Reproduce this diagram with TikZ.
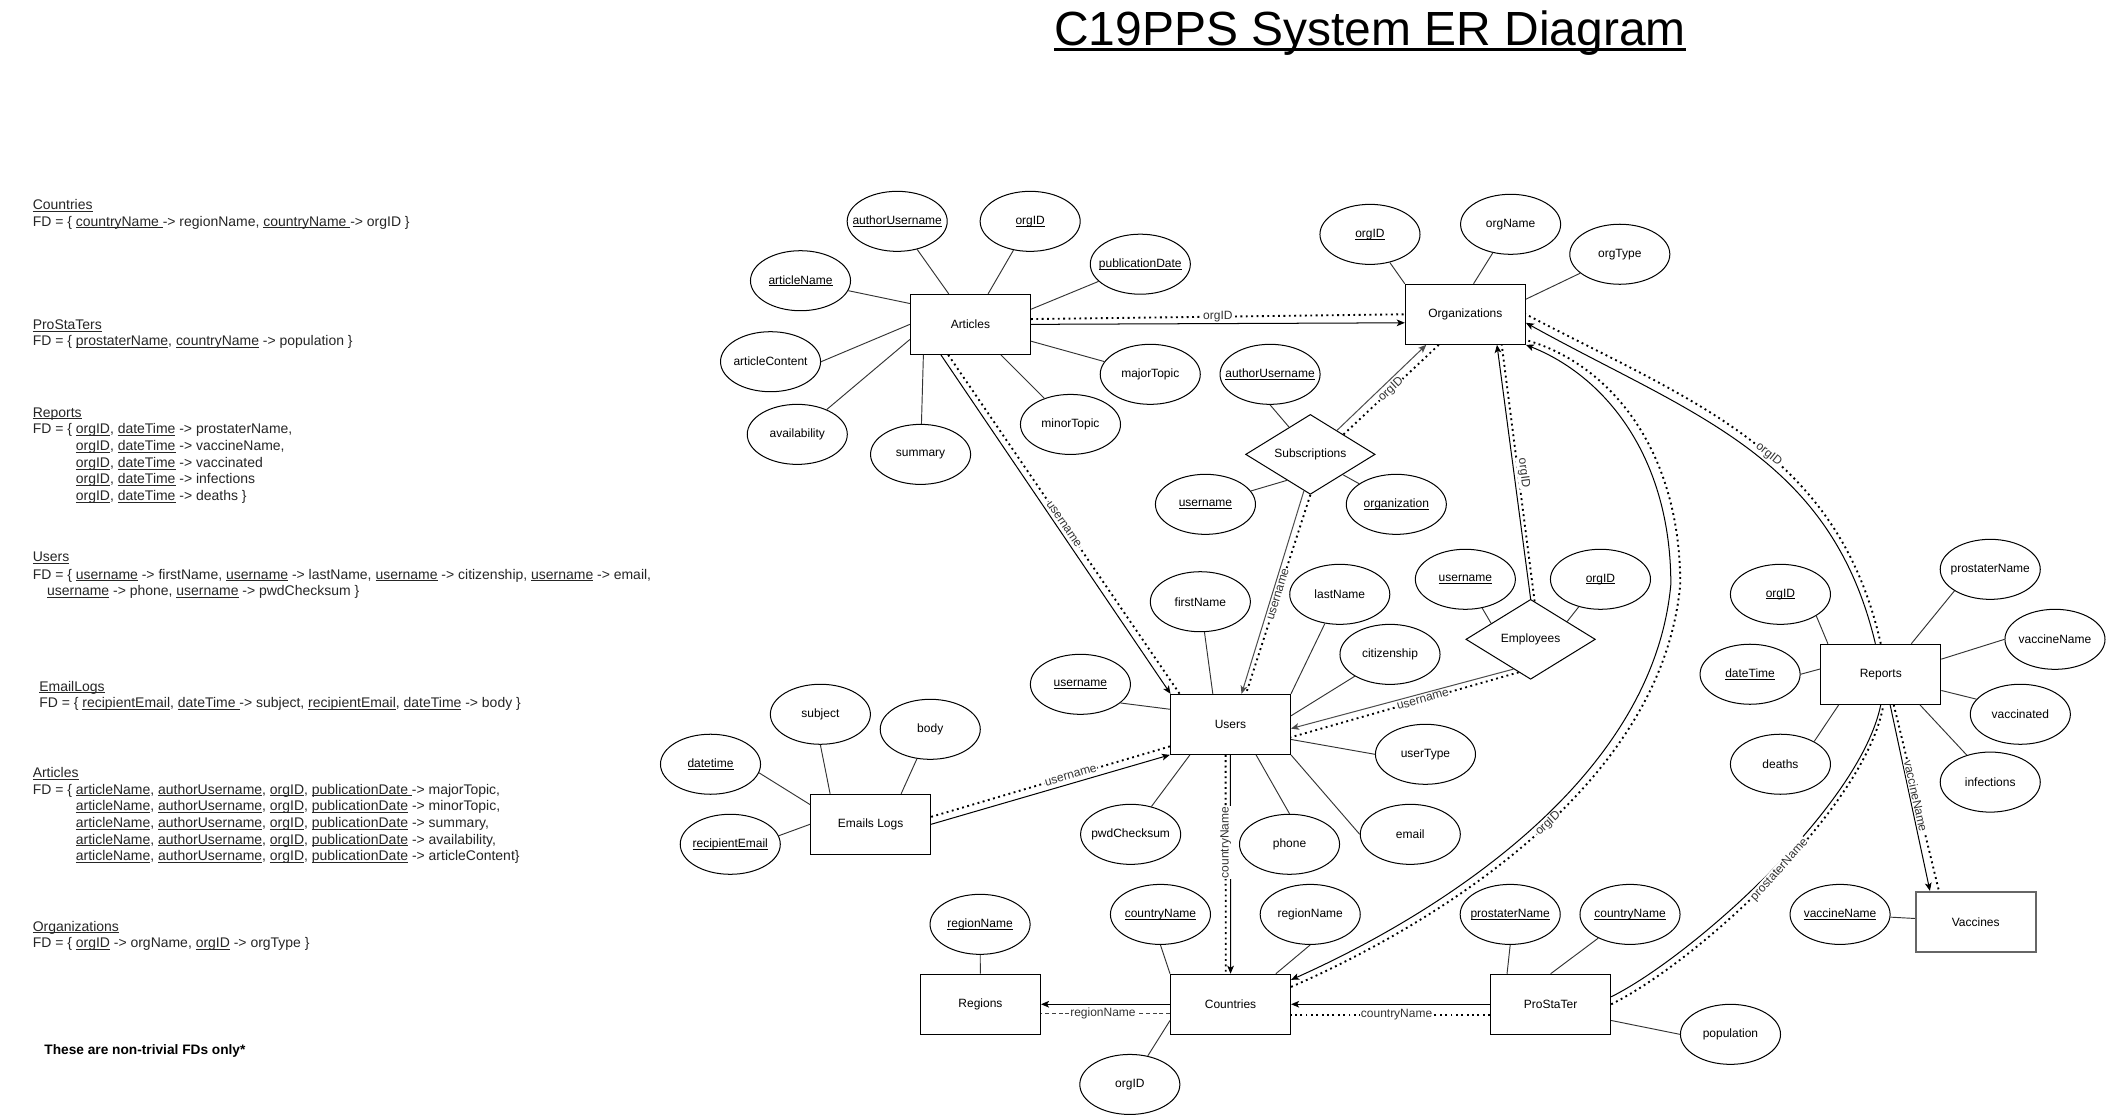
\documentclass[tikz,border=0pt]{standalone}
\usepackage{fontspec}
\setmainfont{Liberation Sans}
\usetikzlibrary{shapes.geometric,arrows.meta}
\newcommand{\uln}[1]{\setbox0\hbox{#1}\rlap{\rule[-1.5pt]{\wd0}{0.55pt}}\box0\relax}
\newcommand{\tul}[1]{\setbox0\hbox{#1}\rlap{\rule[-4.2pt]{\wd0}{1.8pt}}\box0\relax}
\newcommand{\zw}[1]{\makebox[0pt][c]{#1}}
\begin{document}
\begin{tikzpicture}[x=1pt,y=-1pt,
 dfont/.style={font=\fontsize{8.93}{10.7}\selectfont},
 ent/.style={draw, line width=0.75pt, minimum width=89.4pt, minimum height=44.7pt, inner sep=0pt, dfont},
 att/.style={ellipse, draw, line width=0.75pt, minimum width=74.5pt, minimum height=44.7pt, inner sep=0pt, dfont},
 relat/.style={diamond, draw, line width=0.75pt, minimum width=96.4pt, minimum height=59.5pt, inner sep=0pt, dfont},
 aline/.style={line width=0.7pt, draw=black!80},
 fk/.style={line width=0.75pt, -{Stealth[length=6pt,width=5pt,inset=1.5pt]}},
 fkboth/.style={line width=0.75pt, {Stealth[length=6pt,width=5pt,inset=1.5pt]}-{Stealth[length=6pt,width=5pt,inset=1.5pt]}},
 fkplain/.style={line width=0.75pt},
 fkdot/.style={line width=1.4pt, dash pattern=on 1.4pt off 2.6pt},
 fkdash/.style={line width=0.75pt, draw=black!75, dash pattern=on 3pt off 2pt},
 lab/.style={fill=white, inner sep=0.6pt, text=black!80, dfont},
 fd/.style={anchor=base west, inner sep=0pt, font=\fontsize{10.4}{12}\selectfont, text=black!85},
]
\fill[white] (0,0) rectangle (1568,830);
\useasboundingbox (0,0) rectangle (1568,830);

% ---------- title ----------
\node[anchor=base, inner sep=0pt, font=\fontsize{35.7}{40}\selectfont] (title) at (1020,33.6) {\tul{C19PPS System ER Diagram}};

% ---------- FD text ----------
\node[fd] (h1) at (24.2,155.8) {\uln{Countries}};
\node[fd] (f1) at (24.2,168.3) {FD = \{ \uln{countryName }-> regionName, \uln{countryName }-> orgID \}};
\node[fd] (h2) at (24.2,245.2) {\uln{ProStaTers}};
\node[fd] (f2) at (24.2,257.6) {FD = \{ \uln{prostaterName}, \uln{countryName} -> population \}};
\node[fd] (h3) at (24.2,310.5) {\uln{Reports}};
\node[fd] (f3a) at (24.2,323.1) {FD = \{ \uln{orgID}, \uln{dateTime} -> prostaterName,};
\node[fd] (f3b) at (56.3,335.6) {\uln{orgID}, \uln{dateTime} -> vaccineName,};
\node[fd] (f3c) at (56.3,347.9) {\uln{orgID}, \uln{dateTime} -> vaccinated};
\node[fd] (f3d) at (56.3,360.1) {\uln{orgID}, \uln{dateTime} -> infections};
\node[fd] (f3e) at (56.3,372.5) {\uln{orgID}, \uln{dateTime} -> deaths \}};
\node[fd] (h4) at (24.2,418.4) {\uln{Users}};
\node[fd] (f4a) at (24.2,431.1) {FD = \{ \uln{username} -> firstName, \uln{username} -> lastName, \uln{username} -> citizenship, \uln{username} -> email,};
\node[fd] (f4b) at (34.9,443.5) {\uln{username} -> phone, \uln{username} -> pwdChecksum \}};
\node[fd] (h5) at (29.1,514.5) {\uln{EmailLogs}};
\node[fd] (f5) at (29.1,526.9) {FD = \{ \uln{recipientEmail}, \uln{dateTime }-> subject, \uln{recipientEmail}, \uln{dateTime} -> body \}};
\node[fd] (h6) at (24.2,578.8) {\uln{Articles}};
\node[fd] (f6a) at (24.2,591.2) {FD = \{ \uln{articleName}, \uln{authorUsername}, \uln{orgID}, \uln{publicationDate }-> majorTopic,};
\node[fd] (f6b) at (56.3,603.6) {\uln{articleName}, \uln{authorUsername}, \uln{orgID}, \uln{publicationDate} -> minorTopic,};
\node[fd] (f6c) at (56.3,616.0) {\uln{articleName}, \uln{authorUsername}, \uln{orgID}, \uln{publicationDate} -> summary,};
\node[fd] (f6d) at (56.3,628.4) {\uln{articleName}, \uln{authorUsername}, \uln{orgID}, \uln{publicationDate} -> availability,};
\node[fd] (f6e) at (56.3,640.8) {\uln{articleName}, \uln{authorUsername}, \uln{orgID}, \uln{publicationDate} -> articleContent\}};
\node[fd] (h7) at (24.2,693.2) {\uln{Organizations}};
\node[fd] (f7) at (24.2,705.6) {FD = \{ \uln{orgID} -> orgName, \uln{orgID} -> orgType \}};
\node[fd, text=black, font=\fontsize{10.2}{12}\selectfont\bfseries] (note) at (32.9,784.8) {These are non-trivial FDs only*};

% ---------- entities ----------
\node[ent] (articles) at (722.5,241.5) {Articles};
\node[ent] (orgs) at (1091,234) {Organizations};
\node[ent] (users) at (916.1,539.3) {Users};
\node[ent] (emails) at (648.2,613.7) {Emails Logs};
\node[ent] (regions) at (730,747.7) {Regions};
\node[ent] (countries) at (916.2,747.7) {Countries};
\node[ent] (prost) at (1154.5,747.7) {ProStaTer};
\node[ent] (reports) at (1400.3,502) {Reports};
\node[ent, draw=black!60, line width=1.3pt] (vaccines) at (1471,686.3) {Vaccines};

% ---------- relationships ----------
\node[relat] (subs) at (975.6,338.3) {\zw{Subscriptions}};
\node[relat] (emp) at (1139.6,476) {\zw{Employees}};

% ---------- attributes ----------
\node[att] (a1) at (668,164.8) {\zw{\uln{authorUsername}}};
\node[att] (a2) at (767,164.8) {\zw{\uln{orgID}}};
\node[att] (a3) at (849,196.7) {\zw{\uln{publicationDate}}};
\node[att] (a4) at (596,209) {\zw{\uln{articleName}}};
\node[att] (a5) at (573.7,269.3) {\zw{articleContent}};
\node[att] (a6) at (593.6,323.4) {\zw{availability}};
\node[att] (a7) at (685.4,338.3) {\zw{summary}};
\node[att] (a8) at (797,316) {\zw{minorTopic}};
\node[att] (a9) at (856.4,278.7) {\zw{majorTopic}};

\node[att] (o1) at (1020,174.5) {\zw{\uln{orgID}}};
\node[att] (o2) at (1124.7,167) {\zw{orgName}};
\node[att] (o3) at (1206,189.3) {\zw{orgType}};

\node[att] (s1) at (945.6,278.7) {\zw{\uln{authorUsername}}};
\node[att] (s2) at (897.5,375.5) {\zw{\uln{username}}};
\node[att] (s3) at (1039.6,375.5) {\zw{\uln{organization}}};

\node[att] (e1) at (1091,431.3) {\zw{\uln{username}}};
\node[att] (e2) at (1191.6,431.3) {\zw{\uln{orgID}}};

\node[att] (u1) at (893.7,448) {\zw{firstName}};
\node[att] (u2) at (997.5,442.5) {\zw{lastName}};
\node[att] (u3) at (1034.9,487.2) {\zw{citizenship}};
\node[att] (u4) at (1061.3,561.6) {\zw{userType}};
\node[att] (u5) at (1050,621.2) {\zw{email}};
\node[att] (u6) at (960.1,628.6) {\zw{phone}};
\node[att] (u7) at (841.8,621.2) {\zw{pwdChecksum}};
\node[att] (u8) at (804.4,509.5) {\zw{\uln{username}}};

\node[att] (m1) at (610.8,531.8) {\zw{subject}};
\node[att] (m2) at (692.6,543) {\zw{body}};
\node[att] (m3) at (529,569) {\zw{\uln{datetime}}};
\node[att] (m4) at (543.7,628.6) {\zw{\uln{recipientEmail}}};

\node[att] (r1) at (729.7,688.2) {\zw{\uln{regionName}}};
\node[att] (c1) at (864,680.8) {\zw{\uln{countryName}}};
\node[att] (c2) at (975.5,680.8) {\zw{regionName}};
\node[att] (c3) at (841.2,807.4) {\zw{orgID}};

\node[att] (p1) at (1124.4,680.8) {\zw{\uln{prostaterName}}};
\node[att] (p2) at (1213.6,680.8) {\zw{\uln{countryName}}};
\node[att] (p3) at (1288.4,770.1) {\zw{population}};

\node[att] (v1) at (1370,680.8) {\zw{\uln{vaccineName}}};

\node[att] (t1) at (1325.6,442.5) {\zw{\uln{orgID}}};
\node[att] (t2) at (1303,502) {\zw{\uln{dateTime}}};
\node[att] (t3) at (1325.6,569) {\zw{deaths}};
\node[att] (t4) at (1481.8,423.9) {\zw{prostaterName}};
\node[att] (t5) at (1530,476) {\zw{vaccineName}};
\node[att] (t6) at (1504.2,531.8) {\zw{vaccinated}};
\node[att] (t7) at (1481.8,582.3) {\zw{infections}};

% ---------- attribute lines ----------
\draw[aline] (a1) -- (articles);
\draw[aline] (a2) -- (articles);
\draw[aline] (a3) -- (articles.14);
\draw[aline] (a4) -- (articles.161);
\draw[aline] (a5.east) -- (articles.west);
\draw[aline] (a6) -- (articles.194);
\draw[aline] (a7) -- (articles.213);
\draw[aline] (a8) -- (articles);
\draw[aline] (a9) -- (articles);

\draw[aline] (o1) -- (orgs.north west);
\draw[aline] (o2) -- (orgs.75);
\draw[aline] (o3) -- (orgs.14);

\draw[aline] (s1.south) -- (subs.128);
\draw[aline] (s2) -- (subs.228);
\draw[aline] (s3) -- (subs.-32);

\draw[aline] (e1) -- (emp.158);
\draw[aline] (e2) -- (emp.26);

\draw[aline] (u1) -- (users.120);
\draw[aline] (u2.243) -- (users.north east);
\draw[aline] (u3) -- (users.8);
\draw[aline] (u4.west) -- (users.346);
\draw[aline] (u5.west) -- (users.south east);
\draw[aline] (u6.north) -- (users.310);
\draw[aline] (u7) -- (users.217);
\draw[aline] (u8.-25) -- (users.166);

\draw[aline] (m1.south) -- (emails.143);
\draw[aline] (m2) -- (emails.45);
\draw[aline] (m3.-10) -- (emails.162);
\draw[aline] (m4.10) -- (emails.west);

\draw[aline] (r1) -- (regions);
\draw[aline] (c1.south) -- (countries.north west);
\draw[aline] (c2.south) -- (countries.34);
\draw[aline] (c3) -- (countries.195);

\draw[aline] (p1.south) -- (prost.145);
\draw[aline] (p2) -- (prost.north);
\draw[aline] (p3.west) -- (prost.345);

\draw[aline] (v1) -- (vaccines);

\draw[aline] (t1.-31) -- (reports.150);
\draw[aline] (t2.east) -- (reports.175);
\draw[aline] (t3.34) -- (reports.216);
\draw[aline] (t4.211) -- (reports.45);
\draw[aline] (t5.west) -- (reports.14);
\draw[aline] (t6.161) -- (reports.345);
\draw[aline] (t7.131) -- (reports.322);

% ---------- foreign-key connectors ----------
% Articles -> Organizations
\draw[fk] (articles.east) -- (orgs.188);
\draw[fkdot] (articles.5) -- node[lab] {orgID} (orgs.west);
% Articles -> Users
\draw[fk] (articles.226) -- (users.153);
\draw[fkdot] (articles.234) -- node[lab, rotate=-55.5] {username} (users.149);
% Subscriptions -> Organizations
\draw[fk, draw=black!70] (subs.42) -- (orgs.218);
\draw[fkdot] (subs.31) -- node[lab, rotate=43] {orgID} (orgs.229);
% Subscriptions -> Users
\draw[fk, draw=black!70] (subs.260) -- (users.70);
\draw[fkdot] (subs.south) -- node[lab, rotate=73] {username} (users.63);
% Employees -> Organizations
\draw[fk] (emp.north) -- (orgs.316);
\draw[fkdot] (emp.84) -- node[lab, xshift=4pt, rotate=-82.5] {orgID} (orgs.320);
% Employees -> Users
\draw[fk, draw=black!70] (emp.240) -- (users.356);
\draw[fkdot] (emp.250) -- node[lab, pos=0.42, rotate=15.7] {username} (users.348);
% Emails Logs -> Users
\draw[fk] (emails.east) -- (users.south west);
\draw[fkdot] (emails.7) -- node[lab, pos=0.585, rotate=16] {username} (users.200);
% Users -> Countries
\draw[fk] (users.south) -- (countries.north);
\draw[fkdot] (users.261) -- node[lab, pos=0.4, rotate=90] {countryName} (countries.99);
% Countries <-> Organizations
\draw[fkboth] (countries.22) .. controls (1050,690) and (1230,590) .. (1244,435)
   .. controls (1244,340) and (1195,280) .. (orgs.south east);
\draw[fkdot] (countries.16) .. controls (1053,695) and (1237,592) .. (1251,435)
   node[lab, pos=0.55, rotate=43] {orgID}
   .. controls (1251,335) and (1199,271) .. (orgs.-23);
% Reports -> Organizations
\draw[fk] (reports.100) .. controls (1363,339) and (1259.7,308.9) .. (orgs.-8);
\draw[fkdot] (reports.north) .. controls (1368,336) and (1262,300) .. (orgs.east)
   node[lab, pos=0.45, rotate=-39] {orgID};
% Reports -> Vaccines
\draw[fk] (reports.-73) -- (vaccines.146);
\draw[fkdot] (reports.-67) -- node[lab, pos=0.49, rotate=-77.5] {vaccineName} (vaccines.140);
% ProStaTer -- Reports
\draw[fkplain] (prost.7) .. controls (1260,712) and (1385,600) .. (reports.south);
\draw[fkdot] (prost.east) .. controls (1264,716) and (1389,601) .. (reports.-85)
   node[lab, pos=0.52, rotate=48] {prostaterName};
% ProStaTer -> Countries
\draw[fk] (prost.west) -- (countries.east);
\draw[fkdot] (prost.190) -- node[lab, pos=0.47] {countryName} (countries.350);
% Countries -> Regions
\draw[fk] (countries.west) -- (regions.east);
\draw[fkdash] (countries.189) -- node[lab, pos=0.52] {regionName} (regions.351);
\end{tikzpicture}
\end{document}
